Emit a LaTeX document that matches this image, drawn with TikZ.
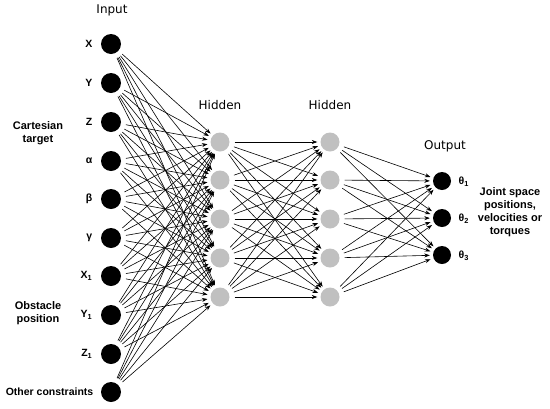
\documentclass[tikz,border=0pt]{standalone}
\usepackage{fontspec}
\setmainfont{Liberation Sans}
\newfontfamily\headfont{DejaVu Sans}
\usetikzlibrary{arrows.meta, positioning, calc}
\definecolor{hidgray}{RGB}{192, 192, 192}
\tikzset{
    inneuron/.style={circle, fill=black, minimum size=20pt, inner sep=0pt},
    outneuron/.style={circle, fill=black, minimum size=18pt, inner sep=0pt},
    hidneuron/.style={circle, fill=hidgray, minimum size=19pt, inner sep=0pt},
    synapse/.style={-{Stealth[length=5.5pt, width=4pt]}, line width=0.6pt, shorten <=5pt, shorten >=3pt},
    varlabel/.style={font=\bfseries\fontsize{10.5}{12}\selectfont, anchor=east},
    grouplabel/.style={font=\bfseries\fontsize{11}{13}\selectfont, align=center},
    layerlabel/.style={font=\headfont\fontsize{12}{14}\selectfont}
}
\begin{document}
\begin{tikzpicture}[x=1pt, y=-1pt]
    \useasboundingbox (0,0) rectangle (550,408);
    % Input layer
    \foreach \i/\yy in {1/44, 2/83, 3/122, 4/161, 5/199, 6/238, 7/276, 8/315, 9/354, 10/392}
        \node[inneuron] (in\i) at (111,\yy) {};
    % Hidden layers
    \foreach \j/\yy in {1/142, 2/180, 3/219, 4/258, 5/297} {
        \node[hidneuron] (hA\j) at (220,\yy) {};
        \node[hidneuron] (hB\j) at (330,\yy) {};
    }
    % Output layer
    \foreach \k/\yy in {1/181, 2/218, 3/255}
        \node[outneuron] (out\k) at (442,\yy) {};
    % Connections
    \foreach \i in {1,...,10}
        \foreach \j in {1,...,5}
            \draw[synapse] (in\i) -- (hA\j);
    \foreach \i in {1,...,5}
        \foreach \j in {1,...,5}
            \draw[synapse] (hA\i) -- (hB\j);
    \foreach \i in {1,...,5}
        \foreach \k in {1,2,3}
            \draw[synapse] (hB\i) -- (out\k);
    % Layer titles
    \node[layerlabel] (tin) at (112,10) {Input};
    \node[layerlabel] (thA) at (220,105) {Hidden};
    \node[layerlabel] (thB) at (330,105) {Hidden};
    \node[layerlabel] (tout) at (445,146) {Output};
    % Variable labels
    \node[varlabel] (lx) at ($(in1.west)+(-5,0)$) {X};
    \node[varlabel] (ly) at ($(in2.west)+(-5,0)$) {Y};
    \node[varlabel] (lz) at ($(in3.west)+(-5,0)$) {Z};
    \node[varlabel] (la) at ($(in4.west)+(-5,0)$) {α};
    \node[varlabel] (lb) at ($(in5.west)+(-5,0)$) {β};
    \node[varlabel] (lg) at ($(in6.west)+(-5,0)$) {γ};
    \node[varlabel] (lx1) at ($(in7.west)+(-5,0)$) {X\textsubscript{1}};
    \node[varlabel] (ly1) at ($(in8.west)+(-5,0)$) {Y\textsubscript{1}};
    \node[varlabel] (lz1) at ($(in9.west)+(-5,0)$) {Z\textsubscript{1}};
    \node[varlabel] (loth) at ($(in10.west)+(-4,0)$) {Other constraints};
    \node[varlabel, anchor=west] (lt1) at ($(out1.east)+(4,1)$) {θ\textsubscript{1}};
    \node[varlabel, anchor=west] (lt2) at ($(out2.east)+(4,1)$) {θ\textsubscript{2}};
    \node[varlabel, anchor=west] (lt3) at ($(out3.east)+(4,1)$) {θ\textsubscript{3}};
    % Group labels
    \node[grouplabel] (cart) at (38,133) {Cartesian\\target};
    \node[grouplabel] (obst) at (38,313) {Obstacle\\position};
    \node[grouplabel] (joint) at (510,212) {Joint space\\positions,\\velocities or\\torques};
\end{tikzpicture}
\end{document}
